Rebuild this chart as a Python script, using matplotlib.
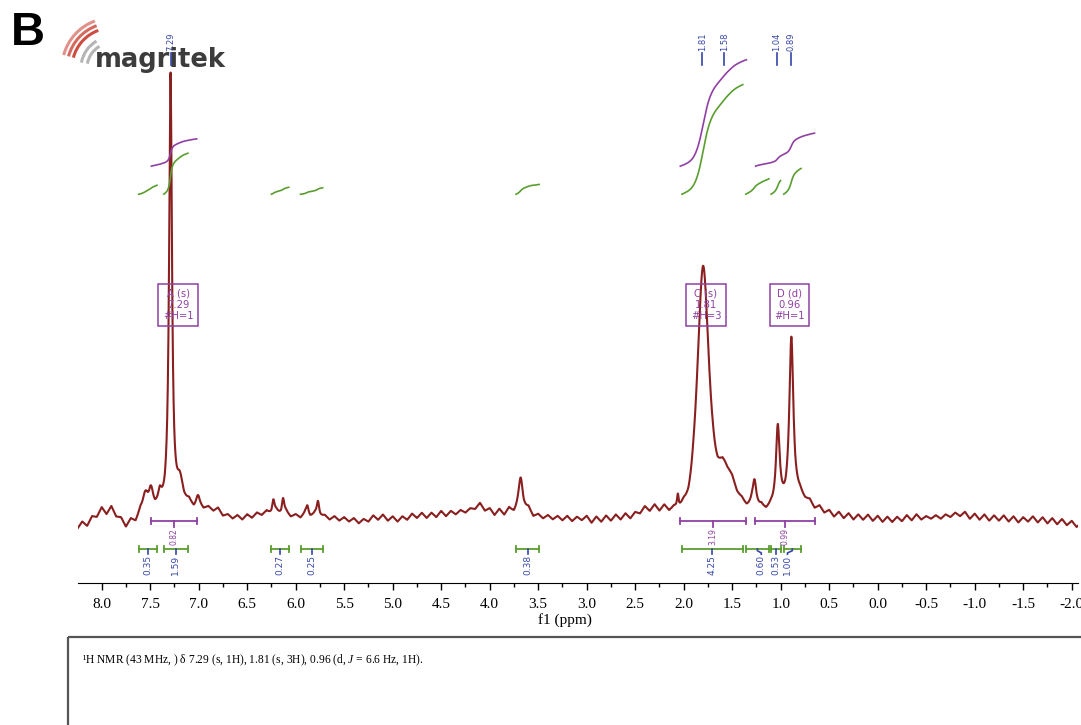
import numpy as np
import matplotlib
matplotlib.use("Agg")
import matplotlib.pyplot as plt
from matplotlib.patches import Arc, Rectangle
from matplotlib.ticker import MultipleLocator, FormatStrFormatter

plt.rcParams["font.family"] = ["Liberation Serif", "DejaVu Serif"]
plt.rcParams["axes.unicode_minus"] = False
plt.rcParams["mathtext.fontset"] = "custom"
plt.rcParams["mathtext.rm"] = "Liberation Serif"
plt.rcParams["mathtext.it"] = "Liberation Serif:italic"

# baseline of the 1H spectrum, read every 0.05 ppm from 8.25 down to -2.10 (arbitrary units, peak A = 100)
base_vals = [
    -2.0, -0.4, -1.4, 0.8, 0.6, 2.8, 1.2, 3.0, 0.6, 0.4,
    -1.8, 0.0, -0.8, 1.6, 1.0, 2.6, 1.8, 2.8, 1.8, 3.0,
    2.4, 3.4, 2.6, 3.6, 2.2, 3.4, 2.2, 2.8, 1.8, 2.6,
    0.8, 1.2, 0.2, 1.0, 0.0, 1.2, 0.4, 1.6, 1.0, 2.0,
    1.2, 2.0, 1.0, 1.8, 0.6, 1.2, 0.4, 1.6, 0.6, 1.4,
    0.6, 1.0, 0.0, 0.8, -0.2, 0.6, -0.4, 0.4, -0.8, 0.2,
    -0.4, 1.0, 0.0, 1.2, -0.2, 0.8, -0.4, 0.8, 0.0, 1.4,
    0.4, 1.6, 0.4, 1.6, 0.6, 2.0, 0.8, 2.0, 1.2, 2.2,
    1.6, 2.6, 2.4, 3.8, 2.0, 2.6, 1.0, 2.4, 1.0, 2.6,
    1.4, 2.8, 2.0, 2.6, 0.6, 1.2, 0.2, 1.0, 0.0, 0.8,
    -0.2, 0.8, -0.4, 0.6, -0.2, 0.8, -0.8, 0.6, -0.6, 0.8,
    -0.4, 1.0, -0.2, 1.2, 0.0, 1.4, 1.0, 2.6, 1.4, 2.8,
    1.2, 2.4, 0.8, 1.4, 0.4, 1.4, 0.6, 1.6, 0.6, 1.4,
    0.8, 1.6, 0.8, 1.8, 1.0, 1.8, 0.8, 1.4, 0.6, 1.4,
    0.6, 1.6, 0.6, 1.4, 0.8, 1.4, 0.6, 1.4, 1.0, 2.2,
    1.8, 2.6, 1.2, 2.2, 0.8, 1.6, 0.2, 1.4, 0.0, 1.2,
    -0.2, 1.0, -0.2, 1.0, -0.4, 0.8, -0.6, 0.6, -0.6, 0.6,
    -0.4, 1.0, -0.2, 1.2, 0.0, 0.8, 0.2, 1.0, 0.2, 1.2,
    0.6, 1.6, 0.8, 1.8, 0.2, 1.4, 0.0, 1.2, -0.2, 1.0,
    -0.2, 1.0, -0.4, 0.8, -0.6, 0.6, -0.4, 0.8, -0.6, 0.6,
    -0.8, 0.4, -1.0, 0.2, -1.2, -0.2, -1.6, -0.6,
]
base_ppm = np.linspace(8.25, -2.10, len(base_vals))

# peaks: position (ppm), height, width at half height (ppm), lorentzian fraction
peak_ppm = [7.55, 7.49, 7.40, 7.29, 7.19, 7.01, 6.23, 6.13, 5.88, 5.77, 3.68, 2.06,
            1.80, 1.58, 1.27, 1.03, 0.89, 0.84]
peak_height = [4.5, 3.5, 2.0, 97.0, 4.5, 1.8, 3.0, 3.5, 2.0, 3.3, 7.0, 3.0,
               54.0, 9.0, 6.5, 18.0, 36.5, 3.0]
peak_fwhm = [0.06, 0.05, 0.04, 0.035, 0.08, 0.04, 0.03, 0.03, 0.03, 0.03, 0.05, 0.02,
             0.14, 0.25, 0.05, 0.045, 0.05, 0.25]
peak_lor = [1, 1, 1, 1, 1, 1, 1, 1, 1, 1, 1, 1,
            0.55, 0.5, 1, 1, 1, 1]

# picked peaks shown on top
pick_ppm = [7.29, 1.81, 1.58, 1.04, 0.89]

# multiplet boxes
mult_ppm = [7.21, 1.77, 0.91]
mult_text = ["A (s)\n7.29\n#H=1", "C (s)\n1.81\n#H=3", "D (d)\n0.96\n#H=1"]

# integrals (purple = multiplet, green = ranges): start ppm, end ppm, value
purple_start = [7.49, 2.035, 1.26]
purple_end = [7.02, 1.353, 0.65]
purple_val = [0.82, 3.19, 0.99]

green_start = [7.62, 7.36, 6.25, 5.95, 3.73, 2.02, 1.36, 1.10, 0.97]
green_end = [7.43, 7.11, 6.07, 5.72, 3.49, 1.39, 1.12, 1.00, 0.79]
green_val = [0.35, 1.59, 0.27, 0.25, 0.38, 4.25, 0.60, 0.53, 1.00]
green_lab_ppm = [7.525, 7.235, 6.16, 5.835, 3.61, 1.705, 1.20, 1.05, 0.93]

red = "#8a1f1f"
purple = "#9040a4"
green = "#5a9e2f"
blue = "#3546a8"

grid = np.linspace(8.25, -2.10, 5000)
spec = np.interp(grid[::-1], base_ppm[::-1], np.array(base_vals)[::-1])[::-1]
for c, h, w, f in zip(peak_ppm, peak_height, peak_fwhm, peak_lor):
    d = (grid - c) / (w / 2)
    spec = spec + h * (f / (1 + d ** 2) + (1 - f) * np.exp(-np.log(2) * d ** 2))

fig = plt.figure(figsize=(10.81, 7.25), dpi=100)

# overlay in pixel units for logo and the text box
ov = fig.add_axes([0, 0, 1, 1], zorder=0)
ov.set_xlim(0, 1081)
ov.set_ylim(725, 0)
ov.axis("off")
ov.text(28, 33, "B", fontsize=34, fontweight="bold", family="Liberation Sans",
        ha="center", va="center")
for r, a in zip([40, 45, 50], [0.9, 0.75, 0.55]):
    ov.add_patch(Arc((112, 68), 2 * r, 2 * r, theta1=195, theta2=250,
                     color="#c8392b", lw=2.2, alpha=a))
for r in [25, 31]:
    ov.add_patch(Arc((112, 68), 2 * r, 2 * r, theta1=190, theta2=240,
                     color="#b5b5b5", lw=2.2))
ov.text(95, 67, "magritek", fontsize=18.5, fontweight="bold", family="DejaVu Sans",
        color="#3c3c3c", ha="left", va="baseline")
ov.add_patch(Rectangle((68, 637), 1100, 200, fill=False, ec="#555555", lw=1.6))
ov.text(82, 660, "¹H NMR (43 MHz, ) δ 7.29 (s, 1H), 1.81 (s, 3H), 0.96 (d, $J$ = 6.6 Hz, 1H).",
        fontsize=8.3, ha="left", va="center")

ax = fig.add_axes([78 / 1081, 142 / 725, 1000 / 1081, 563 / 725], zorder=1)
ax.set_facecolor("none")
ax.plot(grid, spec, color=red, lw=1.5)
ax.set_xlim(8.244, -2.065)
ax.set_ylim(-14.16, 112.36)

for s in ["top", "left", "right"]:
    ax.spines[s].set_visible(False)
ax.set_yticks([])
ax.xaxis.set_major_locator(MultipleLocator(0.5))
ax.xaxis.set_minor_locator(MultipleLocator(0.25))
ax.xaxis.set_major_formatter(FormatStrFormatter("%.1f"))
ax.tick_params(axis="x", which="major", length=5, width=1, pad=6, labelsize=11)
ax.tick_params(axis="x", which="minor", length=3, width=1)
ax.set_xlabel("f1 (ppm)", fontsize=11)
ax.xaxis.set_label_coords(0.487, -0.053)

sans = "DejaVu Sans"

# picked peak labels
for p in pick_ppm:
    ax.plot([p, p], [102.2, 104.9], color=blue, lw=1.2)
    ax.text(p, 105.3, f"{p:.2f}", rotation=90, ha="center", va="bottom",
            fontsize=6, color=blue, family=sans)

# multiplet boxes
for p, t in zip(mult_ppm, mult_text):
    ax.text(p, 48.3, t, ha="center", va="center", fontsize=7.2, color=purple,
            family=sans, linespacing=1.15,
            bbox=dict(boxstyle="square,pad=0.45", fc="none", ec=purple, lw=1.1))


def integral_curve(start, end, value, base, scale):
    m = (grid <= start) & (grid >= end)
    c = np.cumsum(spec[m])
    c = c / c[-1]
    return grid[m], base + c * value * scale


def bracket(start, end, level, color):
    ax.plot([start, end], [level, level], color=color, lw=1.3)
    for e in (start, end):
        ax.plot([e, e], [level - 0.7, level + 0.7], color=color, lw=1.3)


# multiplet integrals (purple)
for s, e, v in zip(purple_start, purple_end, purple_val):
    x, y = integral_curve(s, e, v, 79.5, 7.5)
    ax.plot(x, y, color=purple, lw=1.2)
    bracket(s, e, -0.2, purple)
    mid = (s + e) / 2
    ax.plot([mid, mid], [-0.2, -1.6], color=purple, lw=1.3)
    ax.text(mid, -1.9, f"{v:.2f}", rotation=90, ha="center", va="top",
            fontsize=5.5, color=purple, family=sans)

# range integrals (green, labels blue)
for s, e, v, lp in zip(green_start, green_end, green_val, green_lab_ppm):
    x, y = integral_curve(s, e, v, 73.2, 5.8)
    ax.plot(x, y, color=green, lw=1.2)
    bracket(s, e, -6.5, green)
    mid = (s + e) / 2
    ax.plot([mid, mid, lp, lp], [-6.5, -6.9, -7.4, -7.7], color=blue, lw=1.2)
    ax.text(lp, -7.9, f"{v:.2f}", rotation=90, ha="center", va="top",
            fontsize=6.5, color=blue, family=sans)

fig.savefig("out.png", dpi=100)
